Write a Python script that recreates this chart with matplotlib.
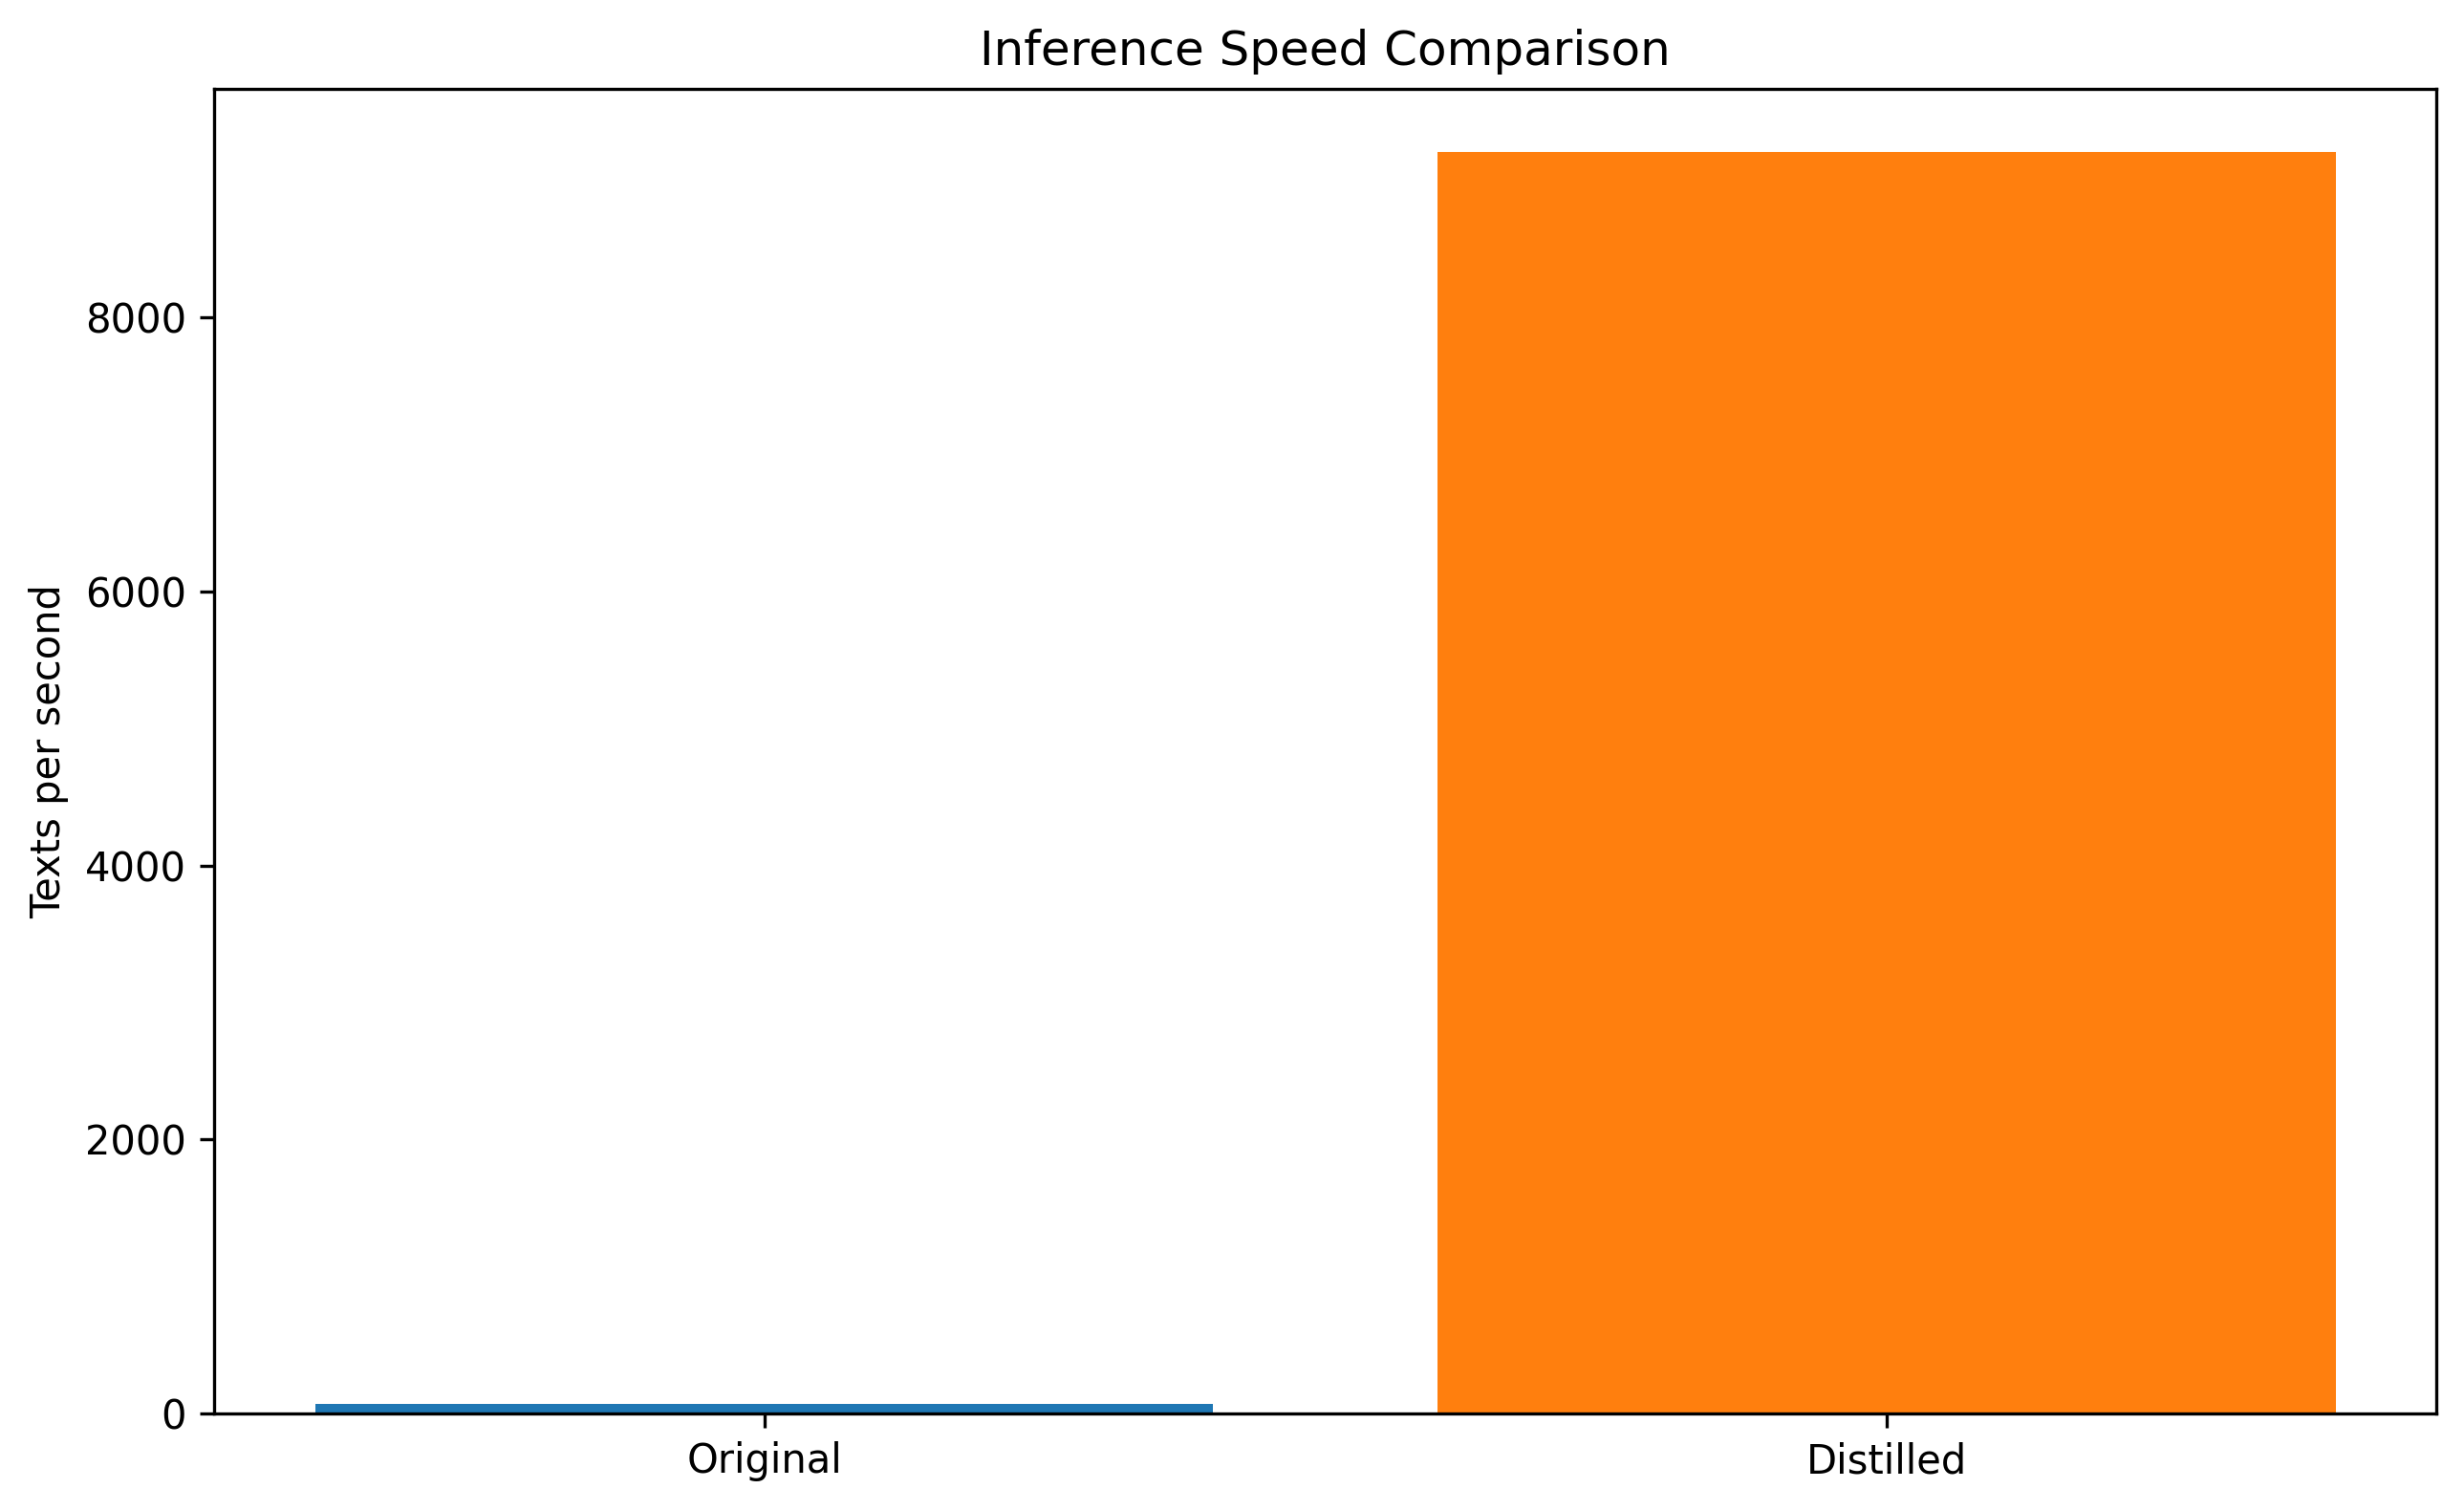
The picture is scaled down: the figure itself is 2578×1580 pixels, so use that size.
import matplotlib
matplotlib.use("Agg")
import matplotlib.pyplot as plt

models = ["Original", "Distilled"]
texts_per_sec = [75, 9204]
bar_colors = ["#1f77b4", "#ff7f0e"]

W, H, DPI = 2578, 1580, 300
fig = plt.figure(figsize=(W / DPI, H / DPI), dpi=DPI)
# axes box measured in pixels from the reference
left, right, top, bottom = 224.3, 2549.3, 93.3, 1479.3
ax = fig.add_axes([left / W, (H - bottom) / H, (right - left) / W, (bottom - top) / H])

ax.bar(models, texts_per_sec, color=bar_colors)
ax.set_ylabel("Texts per second")
ax.set_title("Inference Speed Comparison")

fig.savefig("out.png", dpi=DPI)
